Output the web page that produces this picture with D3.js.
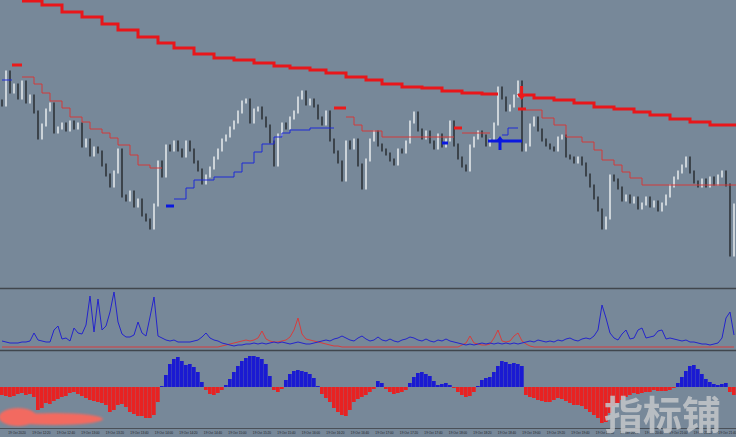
<!DOCTYPE html>
<html>
<head>
<meta charset="utf-8">
<script src="https://cdn.jsdelivr.net/npm/d3@7"></script>
<style>
body{margin:0;background:#778899;overflow:hidden}
</style>
</head>
<body>
<div id="chart"></div>
<script>
// closes of each bar (price in points)
const closes = [183,216,196,203,190,206,186,192,176,150,
  163,178,184,156,160,164,158,166,160,164,
  142,148,133,140,136,123,113,102,116,138,
  92,88,96,82,88,73,68,60,83,126,
  112,142,138,146,138,132,146,138,126,118,
  105,112,120,130,138,148,152,160,166,176,
  186,188,166,178,180,170,162,146,123,153,
  164,160,170,176,190,196,184,188,182,170,
  164,176,148,136,126,108,146,140,148,123,
  100,128,148,156,143,138,134,128,124,138,
  136,146,166,175,158,150,156,146,140,153,
  142,148,166,143,130,122,118,142,150,156,
  152,143,148,164,200,190,178,182,192,206,
  138,143,163,170,158,148,143,140,138,150,
  152,132,130,126,130,124,113,102,90,78,
  60,70,112,108,100,88,92,86,90,80,
  84,90,82,86,78,84,92,102,110,116,
  122,130,116,106,102,108,102,110,104,112,
  116,103,33,83];

// long red stop line, [bar, level]; two pieces
const longStopA = [[5,287],[10,283],[15,276],[20,271],[25,264],[29,258],[34,251],[39,245],[43,240],[48,234],[53,230],[58,228],[63,225],[68,222],[72,220],[77,218],[81,215],[86,211],[91,208],[95,204],[100,201],[105,200],[110,197],[115,195],[120,194],[124,194]];
const longStopB = [[129,193],[133,190],[138,188],[143,185],[148,181],[153,179],[158,176],[162,173],[167,169],[172,166],[177,163],[184,163]];

// thin trailing stops
const sellTrails = [
  [[5,211],[8,204],[10,195],[12,187],[15,180],[17,171],[20,166],[22,159],[25,155],[27,150],[29,143],[32,133],[34,123],[37,120],[40,120]],
  [[86,171],[88,163],[90,157],[95,151],[113,151]],
  [[115,155],[122,155]],
  [[131,178],[135,170],[138,163],[141,151],[145,146],[148,138],[150,128],[153,123],[155,116],[157,110],[160,103],[184,103]]
];
const buyTrails = [
  [[0,208],[2.5,208]],
  [[43,89],[46,100],[48,108],[53,111],[58,116],[60,125],[63,136],[65,144],[68,151],[70,155],[72,158],[77,160],[83,160]],
  [[125,153],[126.5,160],[129,160]]
];

// signal dashes
const sigStart = [2.5, 41, 83, 113, 110, 121.5, 129];
const sigEnd   = [5, 43, 86, 115, 111.5, 130, 131];
const sigLevel = [223, 82, 180, 160, 145, 147, 179];
const sigSide  = ['sell','buy','sell','sell','buy','buy','sell'];

// arrows
const arrowBar = [124.5, 129.9];
const arrowLevel = [152, 188];
const arrowSide = ['buy','sell'];

// middle panel lines
const blueLine = [6,5,4,4,4,5,5,6,14,7,
  6,5,5,17,21,8,9,6,19,14,
  13,22,51,15,48,17,21,35,55,25,
  13,10,10,12,25,14,11,30,50,11,
  9,7,6,7,5,5,5,5,6,7,
  10,14,9,7,6,4,3,2,1,2,
  2,3,3,4,3,4,3,4,5,4,
  5,4,3,4,5,4,3,3,4,5,
  6,7,6,8,9,11,9,7,6,9,
  11,8,6,7,10,7,6,8,6,5,
  7,8,10,9,7,6,8,6,5,7,
  6,8,6,5,4,3,2,3,2,3,
  4,3,4,3,4,3,4,3,4,3,
  4,5,6,5,7,6,5,6,5,7,
  6,8,9,7,6,8,9,8,11,17,
  42,29,14,9,7,13,17,8,9,17,
  19,9,10,11,16,17,8,9,8,7,
  6,7,5,5,4,3,3,2,3,4,
  9,29,35,12];
const redLine = [0,0,0,0,0,0,0,0,0,0,
  0,0,0,0,0,0,0,0,0,0,
  0,0,0,0,0,0,0,0,0,0,
  0,0,0,0,0,0,0,0,0,0,
  0,0,0,0,0,0,0,0,0,0,
  0,0,0,0,0,1,2,3,4,5,
  6,7,6,7,9,16,8,6,5,5,
  6,7,10,17,29,13,8,7,6,5,
  4,3,2,1,1,0,0,0,0,0,
  0,0,0,0,0,0,0,0,0,0,
  0,0,0,0,0,0,0,0,0,0,
  0,0,0,0,0,2,4,11,4,3,
  2,2,3,9,17,6,5,6,11,14,
  6,3,1,0,0,0,0,0,0,0,
  0,0,0,0,0,0,0,0,0,0,
  0,0,0,0,0,0,0,0,0,0,
  0,0,0,0,0,0,0,0,0,0,
  0,0,0,0,0,0,0,0,0,0,
  0,0,0,0];

// bottom histogram
const hist = [-8,-9,-10,-9,-7,-6,-8,-7,-10,-23,
  -21,-16,-17,-14,-12,-10,-9,-6,-5,-7,
  -9,-11,-13,-14,-15,-16,-18,-25,-23,-18,
  -17,-20,-25,-27,-29,-29,-31,-31,-28,-15,
  1,12,23,28,30,26,22,23,20,15,
  5,-3,-7,-8,-6,-3,2,8,15,21,
  26,29,31,31,30,28,23,11,-3,-5,
  -2,7,13,16,17,16,15,13,9,1,
  -7,-11,-15,-21,-25,-28,-29,-23,-15,-12,
  -10,-8,-5,-2,6,4,-2,-5,-7,-6,
  -5,-3,4,10,14,15,13,11,6,2,
  3,4,2,-1,-5,-8,-10,-9,-5,1,
  7,9,10,15,21,26,25,23,24,23,
  21,-8,-10,-11,-13,-14,-15,-15,-13,-11,
  -12,-14,-16,-18,-18,-19,-22,-25,-28,-31,
  -36,-35,-26,-19,-16,-13,-10,-8,-6,-7,
  -6,-5,-5,-3,-4,-4,-4,-3,-1,4,
  10,16,21,22,18,13,8,5,3,2,
  3,4,-5,-8];

const timeLabels = ["19 Oct 2020","19 Oct 12:20","19 Oct 12:40","19 Oct 13:00","19 Oct 13:20","19 Oct 13:40",
  "19 Oct 14:00","19 Oct 14:20","19 Oct 14:40","19 Oct 15:00","19 Oct 15:20","19 Oct 15:40",
  "19 Oct 16:00","19 Oct 16:20","19 Oct 16:40","19 Oct 17:00","19 Oct 17:20","19 Oct 17:40",
  "19 Oct 18:00","19 Oct 18:20","19 Oct 18:40","19 Oct 19:00","19 Oct 19:20","19 Oct 19:40",
  "19 Oct 20:00","19 Oct 20:20","19 Oct 20:40","19 Oct 21:00","19 Oct 21:20","19 Oct 21:40"];

const width = 736, height = 437;
const svg = d3.select('#chart').append('svg')
  .attr('width', width).attr('height', height)
  .style('display','block');
svg.append('rect').attr('width', width).attr('height', height).attr('fill', '#778899');

const defs = svg.append('defs');
const clip = (id, y0, y1) => defs.append('clipPath').attr('id', id)
  .append('rect').attr('x', 0).attr('y', y0).attr('width', width).attr('height', y1 - y0);
clip('cMain', 0, 288); clip('cVol', 289, 350); clip('cHist', 351, 428);
defs.append('filter').attr('id','blur').append('feGaussianBlur').attr('stdDeviation', 1.3);

const x = d3.scaleLinear().domain([0, 183]).range([2, 734]);
const yP = d3.scaleLinear().domain([0, 288]).range([288, 0]);
const yV = d3.scaleLinear().domain([0, 58]).range([347, 289]);
const yH = d3.scaleLinear().domain([-41, 36]).range([428, 351]);

const main = svg.append('g').attr('clip-path', 'url(#cMain)');

// bars
const bars = closes.map((c, i) => ({i: i, o: i ? closes[i-1] : c + 4, c: c}));
main.selectAll('line.bar').data(bars).join('line')
  .attr('class','bar')
  .attr('x1', d => x(d.i)).attr('x2', d => x(d.i))
  .attr('y1', d => yP(Math.max(d.o, d.c)) - 1.5)
  .attr('y2', d => yP(Math.min(d.o, d.c)) + 1.5)
  .attr('stroke', d => d.c >= d.o ? '#e2e6e9' : '#2e3338')
  .attr('stroke-width', 1.6);

const step = d3.line().x(d => x(d[0])).y(d => yP(d[1])).curve(d3.curveStepAfter);

[longStopA, longStopB].forEach(s => {
  main.append('path').attr('d', step(s)).attr('fill','none')
    .attr('stroke','#e8161a').attr('stroke-width', 3);
});
sellTrails.forEach(s => {
  main.append('path').attr('d', step(s)).attr('fill','none')
    .attr('stroke','#d23a3a').attr('stroke-width', 1);
});
buyTrails.forEach(s => {
  main.append('path').attr('d', step(s)).attr('fill','none')
    .attr('stroke','#1f2bd6').attr('stroke-width', 1);
});

// signal dashes
main.selectAll('line.sig').data(sigStart).join('line')
  .attr('class','sig')
  .attr('x1', d => x(d)).attr('x2', (d, i) => x(sigEnd[i]))
  .attr('y1', (d, i) => yP(sigLevel[i])).attr('y2', (d, i) => yP(sigLevel[i]))
  .attr('stroke', (d, i) => sigSide[i] === 'buy' ? '#0a18e0' : '#ec1a1a')
  .attr('stroke-width', 3);

// arrows
arrowBar.forEach((b, i) => {
  const ax = x(b), ay = yP(arrowLevel[i]);
  const up = arrowSide[i] === 'buy';
  const s = up ? 1 : -1;
  const col = up ? '#0a18e0' : '#ec1a1a';
  main.append('path')
    .attr('d', `M${ax},${ay} L${ax-4.5},${ay+6*s} L${ax-1.5},${ay+6*s} L${ax-1.5},${ay+14*s} L${ax+1.5},${ay+14*s} L${ax+1.5},${ay+6*s} L${ax+4.5},${ay+6*s} Z`)
    .attr('fill', col);
});

// middle panel
const vol = svg.append('g').attr('clip-path','url(#cVol)');
const vline = d3.line().x((d, i) => x(i)).y(d => yV(d));
vol.append('path').attr('d', vline(redLine)).attr('fill','none')
  .attr('stroke','#d83c3c').attr('stroke-width', 1);
vol.append('path').attr('d', vline(blueLine)).attr('fill','none')
  .attr('stroke','#2424cc').attr('stroke-width', 1);

// histogram
const hg = svg.append('g').attr('clip-path','url(#cHist)');
hg.selectAll('rect').data(hist).join('rect')
  .attr('x', (d, i) => x(i) - 2)
  .attr('width', 3.7)
  .attr('y', d => Math.min(yH(d), yH(0)))
  .attr('height', d => Math.abs(yH(d) - yH(0)))
  .attr('fill', d => d >= 0 ? '#1a1ad2' : '#e82222');

// separators
[288.5, 350.5].forEach(y => {
  svg.append('line').attr('x1', 0).attr('x2', width).attr('y1', y).attr('y2', y)
    .attr('stroke','#40464d').attr('stroke-width', 1.5);
});
svg.append('line').attr('x1', 0).attr('x2', width).attr('y1', 428.5).attr('y2', 428.5)
  .attr('stroke','#4a5058').attr('stroke-width', 1);

// smudge bottom left
const smudge = svg.append('g').attr('filter','url(#blur)');
smudge.append('ellipse').attr('cx', 55).attr('cy', 419).attr('rx', 48).attr('ry', 6).attr('fill','#f26a60');
smudge.append('ellipse').attr('cx', 18).attr('cy', 417).attr('rx', 19).attr('ry', 9).attr('fill','#f26a60');

// time labels
const xl = d3.scaleLinear().domain([0, timeLabels.length - 1]).range([17, 727.5]);
svg.selectAll('text.t').data(timeLabels).join('text')
  .attr('class','t')
  .attr('x', (d, i) => xl(i)).attr('y', 434)
  .attr('text-anchor','middle')
  .attr('font-family','Liberation Sans, Arial, sans-serif')
  .attr('font-size', 3.2)
  .attr('fill','#1c2024')
  .text(d => d);

// watermark
svg.append('text')
  .attr('x', 604).attr('y', 429)
  .attr('font-family','Noto Sans CJK SC')
  .attr('font-weight', 700)
  .attr('font-size', 39)
  .attr('fill','#c4c7ca')
  .attr('opacity', 0.85)
  .text('指标铺');
</script>
</body>
</html>
